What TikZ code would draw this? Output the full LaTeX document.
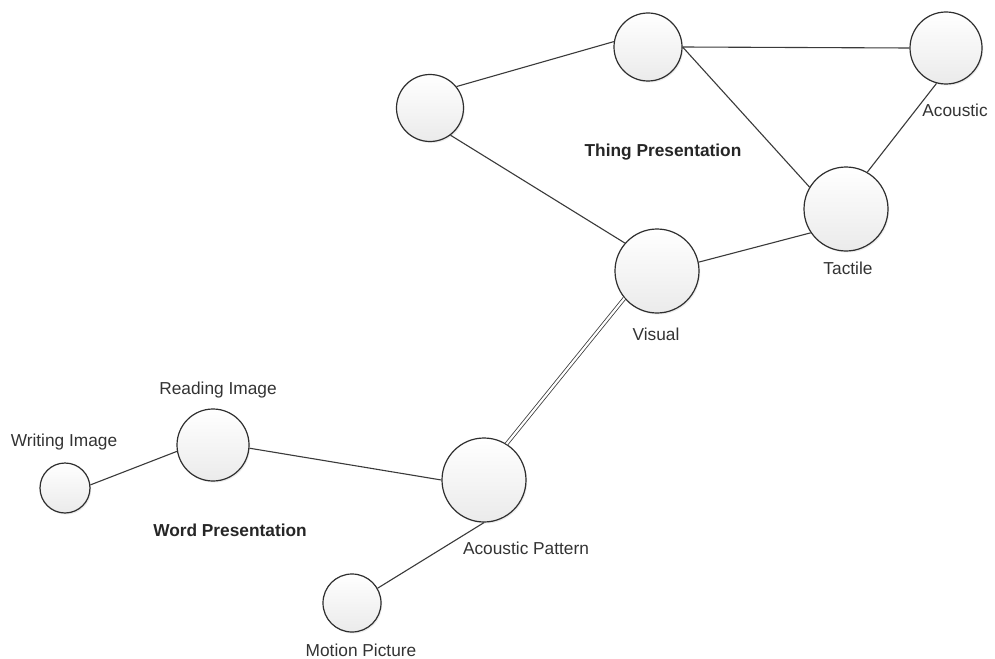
\documentclass[tikz,border=0pt]{standalone}
\usepackage{fontspec}
\setmainfont{Liberation Sans}
\usetikzlibrary{shadows}
\definecolor{edgegray}{HTML}{3A3A3A}
\definecolor{ringgray}{HTML}{2E2E2E}
\definecolor{textgray}{HTML}{333333}
\begin{document}
\begin{tikzpicture}[x=1pt,y=-1pt,
  bubble/.style={circle,draw=ringgray,line width=1.2pt,inner sep=0pt,
    top color=white,bottom color=black!8,
    drop shadow={shadow xshift=1.2pt,shadow yshift=-1.5pt,fill=black!15,opacity=0.5}},
  link/.style={draw=edgegray,line width=1.1pt},
  twin/.style={draw=edgegray,line width=0.8pt,double=white,double distance=2.2pt},
  caption/.style={text=textgray,font=\fontsize{17.3}{20}\selectfont,inner sep=0pt,anchor=base},
  title/.style={text=black!85,font=\fontsize{17.3}{20}\selectfont\bfseries,inner sep=0pt,anchor=base}]
\useasboundingbox (0,0) rectangle (995,658);
\fill[white] (0,0) rectangle (995,658);

% thing presentation cluster
\node[bubble,minimum size=67pt] (hub)   at (430,108) {};
\node[bubble,minimum size=68pt] (top)   at (648,47)  {};
\node[bubble,minimum size=72pt] (acou)  at (946,48)  {};
\node[bubble,minimum size=84pt] (tact)  at (846,209) {};
\node[bubble,minimum size=84pt] (vis)   at (657,271) {};

% word presentation cluster
\node[bubble,minimum size=84pt] (apat)  at (484,480) {};
\node[bubble,minimum size=72pt] (read)  at (213,445) {};
\node[bubble,minimum size=50pt] (write) at (65,488)  {};
\node[bubble,minimum size=58pt] (mot)   at (352,603) {};

% connectors
\draw[link] (hub.39) -- (top.171);
\draw[link] (top.east) -- (acou.west);
\draw[link] (top.east) -- (tact.149);
\draw[link] (acou.255) -- (tact.60);
\draw[link] (hub.-53) -- (vis.139);
\draw[link] (vis.12) -- (tact.214);
\draw[twin] (vis.220) -- (apat.58);
\draw[link] (read.-5) -- (apat.west);
\draw[link] (write.7) -- (read.190);
\draw[link] (mot.30) -- (apat.south);

% labels
\node[caption] (lacou)  at (955,117) {Acoustic};
\node[title]   (lthing) at (663,156) {Thing Presentation};
\node[caption] (ltact)  at (848,274) {Tactile};
\node[caption] (lvis)   at (656,340) {Visual};
\node[caption] (lread)  at (218,394) {Reading Image};
\node[caption] (lwrite) at (64,446)  {Writing Image};
\node[title]   (lword)  at (230,536) {Word Presentation};
\node[caption] (lapat)  at (526,554) {Acoustic Pattern};
\node[caption] (lmot)   at (361,656) {Motion Picture};
\end{tikzpicture}
\end{document}
